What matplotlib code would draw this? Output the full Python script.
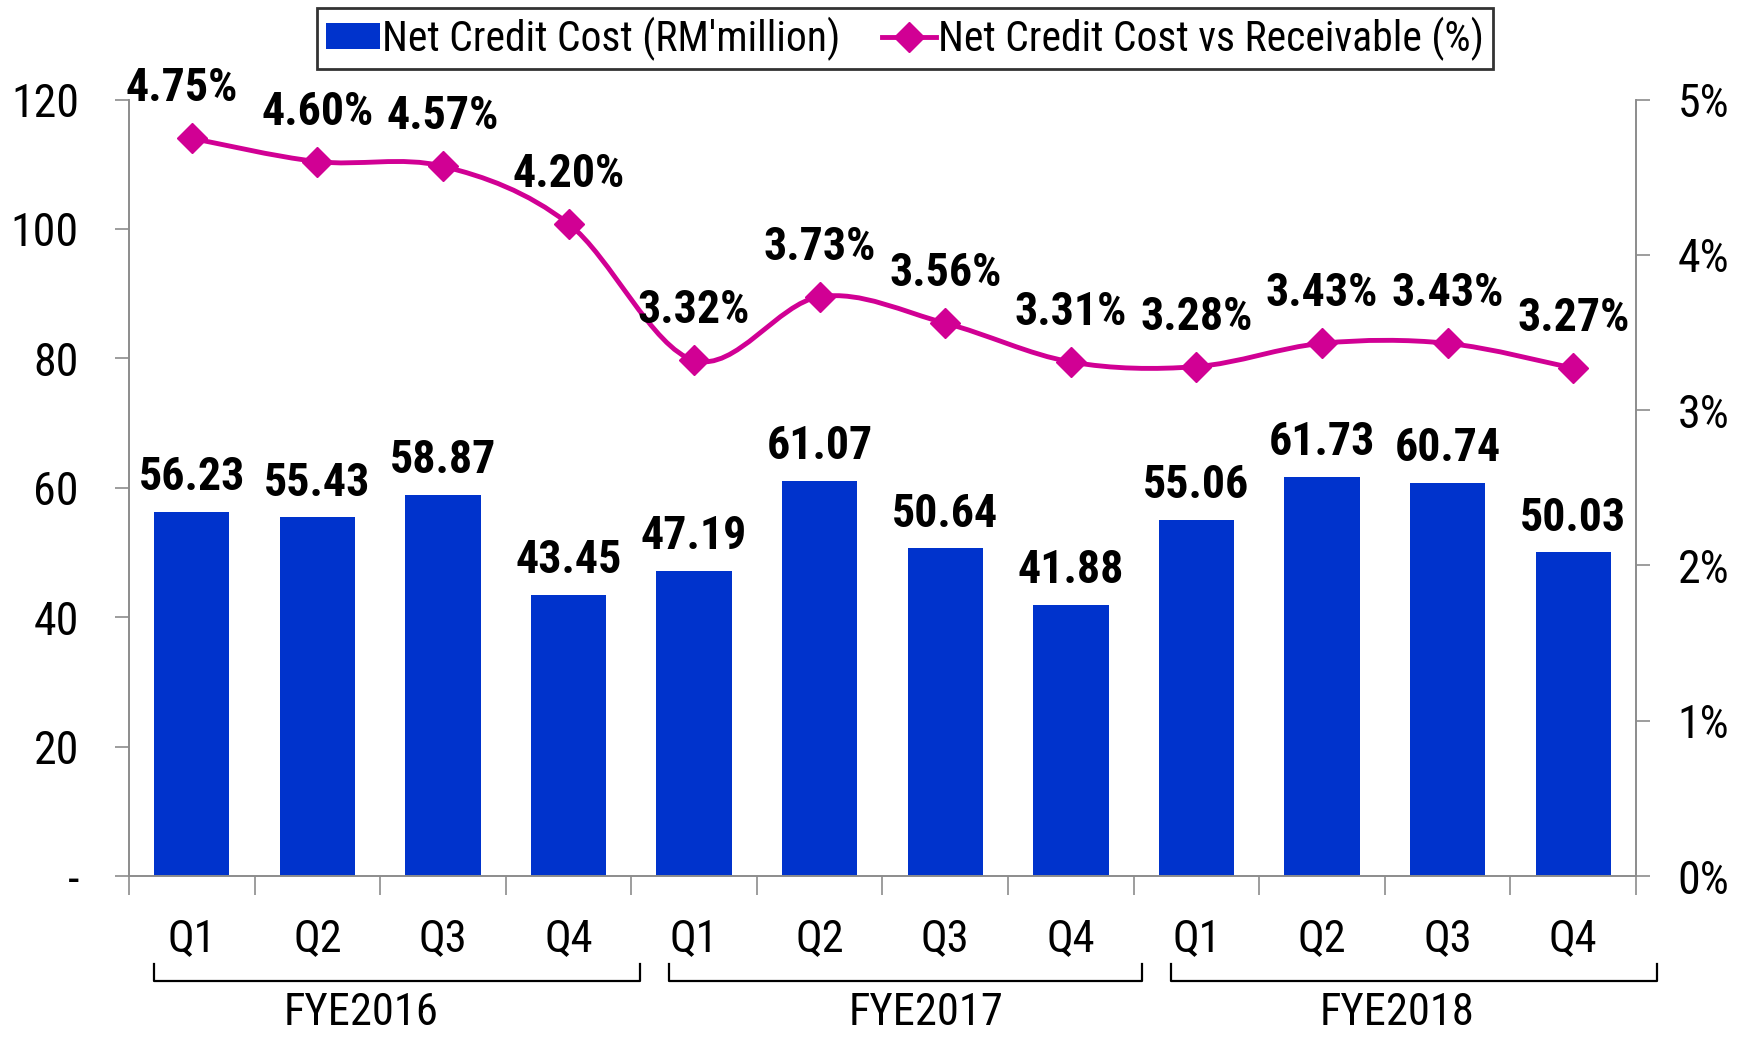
import matplotlib
matplotlib.use('Agg')
from matplotlib import pyplot as plt
from matplotlib.path import Path
from matplotlib.patches import PathPatch
from matplotlib.lines import Line2D
from matplotlib.patches import Patch
from matplotlib.transforms import blended_transform_factory

plt.rcParams['font.family'] = ['Roboto Condensed', 'DejaVu Sans']

quarters = ['Q1', 'Q2', 'Q3', 'Q4'] * 3
years = ['FYE2016', 'FYE2017', 'FYE2018']
credit_cost = [56.23, 55.43, 58.87, 43.45, 47.19, 61.07, 50.64, 41.88, 55.06, 61.73, 60.74, 50.03]
cost_vs_recv = [4.75, 4.60, 4.57, 4.20, 3.32, 3.73, 3.56, 3.31, 3.28, 3.43, 3.43, 3.27]

bar_color = '#0033CC'
line_color = '#D10094'
axis_gray = '#8C8C8C'

fig = plt.figure(figsize=(17.37, 10.38), dpi=100)
ax = fig.add_axes([129 / 1737, 1 - 876 / 1038, (1636 - 129) / 1737, (876 - 99.5) / 1038])
ax2 = ax.twinx()

x = list(range(len(credit_cost)))
ax.bar(x, credit_cost, width=0.6, color=bar_color, zorder=2)
for i, v in enumerate(credit_cost):
    ax.annotate(f'{v:.2f}', (i, v), xytext=(0, 25), textcoords='offset points',
                ha='center', va='center', fontsize=33, fontweight='bold')

# smoothed line (bezier through the points, like excel "smoothed line")
n = len(cost_vs_recv)
pts = list(zip(x, cost_vs_recv))
verts = [pts[0]]
codes = [Path.MOVETO]
for i in range(n - 1):
    p0 = pts[i - 1] if i > 0 else pts[i]
    p1 = pts[i]
    p2 = pts[i + 1]
    p3 = pts[i + 2] if i + 2 < n else pts[i + 1]
    c1 = (p1[0] + (p2[0] - p0[0]) / 6, p1[1] + (p2[1] - p0[1]) / 6)
    c2 = (p2[0] - (p3[0] - p1[0]) / 6, p2[1] - (p3[1] - p1[1]) / 6)
    verts += [c1, c2, p2]
    codes += [Path.CURVE4] * 3
ax2.add_patch(PathPatch(Path(verts, codes), facecolor='none', edgecolor=line_color,
                        lw=3.5, zorder=3, capstyle='round'))
ax2.plot(x, cost_vs_recv, 'D', color=line_color, markersize=15, zorder=4)
for i, v in enumerate(cost_vs_recv):
    dx = -7 if i == 0 else 0
    ax2.annotate(f'{v:.2f}%', (i, v), xytext=(dx, 36), textcoords='offset points',
                 ha='center', va='center', fontsize=33, fontweight='bold')

ax.set_xlim(-0.5, 11.5)
ax.set_ylim(0, 120)
ax2.set_ylim(0, 5)

ax.set_yticks([0, 20, 40, 60, 80, 100, 120])
ax.set_yticklabels(['-', '20', '40', '60', '80', '100', '120'])
ax2.set_yticks([0, 1, 2, 3, 4, 5])
ax2.set_yticklabels([f'{t}%' for t in range(6)])

ax.set_xticks(x)
ax.set_xticklabels(quarters)
ax.set_xticks([i - 0.5 for i in range(13)], minor=True)
ax.tick_params(axis='x', which='major', length=0, pad=30, labelsize=32)
ax.tick_params(axis='x', which='minor', length=14, width=1.2, color=axis_gray)
ax.tick_params(axis='y', length=10, width=1.2, color=axis_gray, pad=26, labelsize=33)
ax2.tick_params(axis='y', length=10, width=1.2, color=axis_gray, pad=20, labelsize=33)

for a in (ax, ax2):
    a.spines['top'].set_visible(False)
    for s in ('left', 'right', 'bottom'):
        a.spines[s].set_color(axis_gray)
        a.spines[s].set_linewidth(1.2)

# year brackets under the quarter labels
tr = blended_transform_factory(ax.transData, fig.transFigure)
label_x = [1.35, 5.85, 9.6]
bracket_x = [(-0.3, 3.57), (3.8, 7.57), (7.8, 11.67)]
for k, yr in enumerate(years):
    x0, x1 = bracket_x[k]
    ax.plot([x0, x0, x1, x1], [0.071, 0.055, 0.055, 0.071], color='black', lw=1.6,
            transform=tr, clip_on=False)
    ax.text(label_x[k], 0.024, yr, transform=tr, ha='center', va='center', fontsize=32)

handles = [Patch(facecolor=bar_color, edgecolor='none'),
           Line2D([], [], color=line_color, lw=3.5, marker='D', markersize=15)]
leg = fig.legend(handles, ["Net Credit Cost (RM'million)", 'Net Credit Cost vs Receivable (%)'],
                 loc='upper center', bbox_to_anchor=(0.521, 0.992), ncol=2, fontsize=30,
                 frameon=True, fancybox=False, edgecolor='black', handlelength=1.3,
                 handleheight=0.6, handletextpad=0.05, columnspacing=1.0,
                 borderpad=0.2, borderaxespad=0)
leg.get_frame().set_linewidth(2)

plt.savefig('out.png', dpi=100)
